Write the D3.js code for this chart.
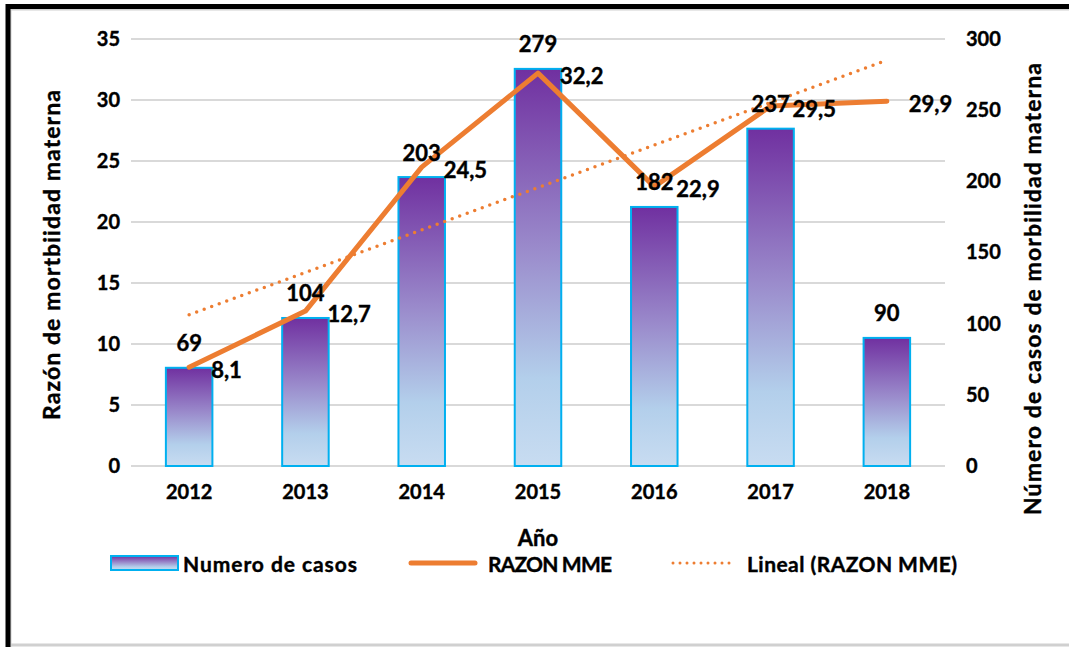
<!DOCTYPE html>
<html>
<head>
<meta charset="utf-8">
<script src="https://cdn.jsdelivr.net/npm/d3@7"></script>
<style>
  body { margin: 0; background: #fff; }
  text { font-family: Lato, "Open Sans", sans-serif; font-weight: bold; fill: #000; stroke: #000; stroke-width: 0.4px; }
</style>
</head>
<body>
<div id="chart"></div>
<script>
// data
var years = ["2012", "2013", "2014", "2015", "2016", "2017", "2018"];
var casos = [69, 104, 203, 279, 182, 237, 90];          // bars, right axis
var razon = [8.1, 12.7, 24.5, 32.2, 22.9, 29.5, 29.9];  // line, left axis
var leftTicks = [0, 5, 10, 15, 20, 25, 30, 35];
var rightTicks = [0, 50, 100, 150, 200, 250, 300];

var W = 1069, H = 647;
var orange = "#ED7D31";

var svg = d3.select("#chart").append("svg")
    .attr("width", W)
    .attr("height", H);

// gradient for bars
var defs = svg.append("defs");
var grad = defs.append("linearGradient")
    .attr("id", "barGrad")
    .attr("x1", 0).attr("y1", 0).attr("x2", 0).attr("y2", 1);
grad.append("stop").attr("offset", "0%").attr("stop-color", "#7030A0");
grad.append("stop").attr("offset", "45%").attr("stop-color", "#9A8ACB");
grad.append("stop").attr("offset", "78%").attr("stop-color", "#B3CFEB");
grad.append("stop").attr("offset", "100%").attr("stop-color", "#C8DCF1");

// frame (cropped chart border)
svg.append("line").attr("x1", 10.5).attr("y1", 9).attr("x2", 10.5).attr("y2", H)
    .attr("stroke", "#d0d0d0").attr("stroke-width", 2);
svg.append("line").attr("x1", 10).attr("y1", 9.5).attr("x2", W).attr("y2", 9.5)
    .attr("stroke", "#d0d0d0").attr("stroke-width", 2);
svg.append("line").attr("x1", 10).attr("y1", 645).attr("x2", W).attr("y2", 645)
    .attr("stroke", "#d0d0d0").attr("stroke-width", 3);
svg.append("path").attr("d", "M8," + H + "V6.5H" + W)
    .attr("fill", "none").attr("stroke", "#000").attr("stroke-width", 5);

// scales
var x = d3.scaleBand()
    .domain(years)
    .range([131, 945])
    .paddingInner(0.6)
    .paddingOuter(0.3);

var yL = d3.scaleLinear().domain([0, 35]).range([466, 39]);
var yR = d3.scaleLinear().domain([0, 300]).range([466, 39]);

var cx = function(i) { return x(years[i]) + x.bandwidth() / 2; };

// gridlines
svg.append("g")
    .selectAll("line")
    .data(leftTicks)
    .enter().append("line")
        .attr("x1", 131).attr("x2", 945)
        .attr("y1", function(d) { return yL(d); })
        .attr("y2", function(d) { return yL(d); })
        .attr("stroke", "#d9d9d9")
        .attr("stroke-width", 2);

function styleAxis(g) {
    g.select(".domain").remove();
    g.selectAll("text")
        .style("font-size", "20px")
        .style("font-family", "Lato, sans-serif")
        .attr("fill", "#000");
}

// left axis
svg.append("g")
    .attr("transform", "translate(120,0)")
    .call(d3.axisLeft(yL).tickValues(leftTicks).tickSize(0).tickPadding(0))
    .call(styleAxis);

// right axis
svg.append("g")
    .attr("transform", "translate(966,0)")
    .call(d3.axisRight(yR).tickValues(rightTicks).tickSize(0).tickPadding(0))
    .call(styleAxis);

// x axis
svg.append("g")
    .attr("transform", "translate(0,485)")
    .call(d3.axisBottom(x).tickSize(0).tickPadding(0))
    .call(styleAxis);

// bars
svg.append("g")
    .selectAll("rect")
    .data(casos)
    .enter().append("rect")
        .attr("x", function(d, i) { return x(years[i]); })
        .attr("y", function(d) { return yR(d); })
        .attr("width", x.bandwidth())
        .attr("height", function(d) { return yR(0) - yR(d); })
        .attr("fill", "url(#barGrad)")
        .attr("stroke", "#00B0F0")
        .attr("stroke-width", 2);

// linear trendline of razon
var n = razon.length;
var mx = d3.mean(razon, function(d, i) { return i; });
var my = d3.mean(razon);
var sxy = d3.sum(razon, function(d, i) { return (i - mx) * (d - my); });
var sxx = d3.sum(razon, function(d, i) { return (i - mx) * (i - mx); });
var slope = sxy / sxx;
var icpt = my - slope * mx;

svg.append("line")
    .attr("x1", cx(0)).attr("y1", yL(icpt))
    .attr("x2", cx(n - 1)).attr("y2", yL(icpt + slope * (n - 1)))
    .attr("stroke", orange)
    .attr("stroke-width", 3.5)
    .attr("stroke-linecap", "round")
    .attr("stroke-dasharray", "0 8");

// razon line
var line = d3.line()
    .x(function(d, i) { return cx(i); })
    .y(function(d) { return yL(d); });

svg.append("path")
    .datum(razon)
    .attr("d", line)
    .attr("fill", "none")
    .attr("stroke", orange)
    .attr("stroke-width", 5)
    .attr("stroke-linejoin", "round")
    .attr("stroke-linecap", "round");

// bar value labels
svg.append("g")
    .selectAll("text")
    .data(casos)
    .enter().append("text")
        .attr("x", function(d, i) { return cx(i); })
        .attr("y", function(d) { return yR(d) - 25; })
        .attr("text-anchor", "middle")
        .attr("dominant-baseline", "central")
        .style("font-size", "22px")
        .text(function(d) { return d; });

// line value labels
svg.append("g")
    .selectAll("text")
    .data(razon)
    .enter().append("text")
        .attr("x", function(d, i) { return cx(i) + 22; })
        .attr("y", function(d) { return yL(d) + 2; })
        .attr("text-anchor", "start")
        .attr("dominant-baseline", "central")
        .style("font-size", "22px")
        .text(function(d) { return String(d).replace(".", ","); });

// axis titles
svg.append("text")
    .attr("transform", "translate(51,255) rotate(-90)")
    .attr("text-anchor", "middle")
    .attr("dominant-baseline", "central")
    .attr("textLength", 330)
    .style("font-size", "23px")
    .text("Razón de mortbiidad materna");

svg.append("text")
    .attr("transform", "translate(1032,289) rotate(-90)")
    .attr("text-anchor", "middle")
    .attr("dominant-baseline", "central")
    .attr("textLength", 452)
    .style("font-size", "23px")
    .text("Número de casos de morbilidad materna");

svg.append("text")
    .attr("x", 538).attr("y", 537)
    .attr("text-anchor", "middle")
    .attr("dominant-baseline", "central")
    .style("font-size", "22px")
    .text("Año");

// legend
var lg = svg.append("g");
lg.append("rect")
    .attr("x", 111).attr("y", 556).attr("width", 67).attr("height", 14)
    .attr("fill", "url(#barGrad)")
    .attr("stroke", "#00B0F0").attr("stroke-width", 2);
lg.append("text").attr("x", 183).attr("y", 563)
    .attr("dominant-baseline", "central").style("font-size", "21px")
    .attr("textLength", 174)
    .text("Numero de casos");

lg.append("line")
    .attr("x1", 411).attr("x2", 475).attr("y1", 563).attr("y2", 563)
    .attr("stroke", orange).attr("stroke-width", 5).attr("stroke-linecap", "round");
lg.append("text").attr("x", 488).attr("y", 563)
    .attr("dominant-baseline", "central").style("font-size", "21px")
    .attr("textLength", 124)
    .text("RAZON MME");

lg.append("line")
    .attr("x1", 673).attr("x2", 736).attr("y1", 563).attr("y2", 563)
    .attr("stroke", orange).attr("stroke-width", 3).attr("stroke-linecap", "round")
    .attr("stroke-dasharray", "0 7");
lg.append("text").attr("x", 747).attr("y", 563)
    .attr("dominant-baseline", "central").style("font-size", "21px")
    .attr("textLength", 210)
    .text("Lineal (RAZON MME)");
</script>
</body>
</html>
